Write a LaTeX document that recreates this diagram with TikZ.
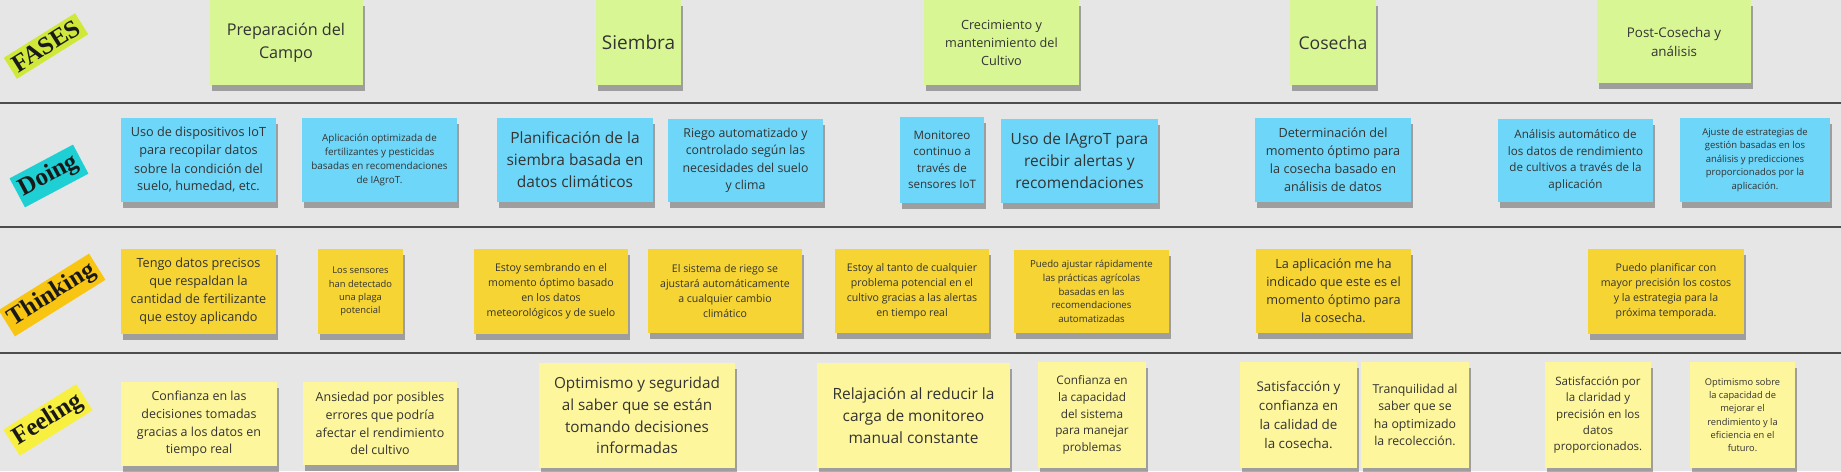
\documentclass[tikz,border=0pt]{standalone}
\usepackage{fontspec}
\setmainfont{Open Sans}
\newfontfamily\tagfont{Liberation Serif}
\usepackage{tikz}
\usetikzlibrary{
  shadows,
  positioning
}

\definecolor{boardgray}{HTML}{E6E6E6}
\definecolor{rulegray}{HTML}{4D4D4D}
\definecolor{phasegreen}{HTML}{D8F694}
\definecolor{doingblue}{HTML}{6ED6F8}
\definecolor{thinkgold}{HTML}{F5D433}
\definecolor{feelpale}{HTML}{FDF69C}
\definecolor{tagfases}{HTML}{CFE83A}
\definecolor{tagdoing}{HTML}{1ECFD3}
\definecolor{tagthink}{HTML}{F7C512}
\definecolor{tagfeel}{HTML}{F8F040}

% line spacing of a note, in board pixels
\newcommand\notesize[1]{\pgfmathsetmacro\nsA{#1*0.352}\pgfmathsetmacro\nsB{#1*0.5}\fontsize{\nsA}{\nsB}\selectfont}

\tikzset{
  note/.style={inner sep=0pt, align=center, text=black!80,
    drop shadow={shadow xshift=1pt, shadow yshift=-3pt, fill=black!80, opacity=.4}},
  wh/.style 2 args={minimum width=#1*0.5pt, minimum height=#2*0.5pt},
  sp/.style={font=\notesize{#1}},
  phase/.style={note, fill=phasegreen},
  doing/.style={note, fill=doingblue},
  think/.style={note, fill=thinkgold},
  feel/.style={note, fill=feelpale},
  rowtag/.style={inner sep=2pt, text=black!90,
    font=\tagfont\bfseries\fontsize{12.5}{12.5}\selectfont}
}

\begin{document}
\begin{tikzpicture}[x=0.5pt,y=-0.5pt]
  \useasboundingbox (0,0) rectangle (1841,471);
  \fill[boardgray] (0,0) rectangle (1841,471);
  % row rules
  \draw[rulegray,line width=1pt] (0,103) -- (1841,103);
  \draw[rulegray,line width=1pt] (0,227) -- (1841,227);
  \draw[rulegray,line width=1pt] (0,353) -- (1841,353);

  % row tags
  \node[rowtag,fill=tagfases,rotate=32] (lFases) at (46,46)  {FASES};
  \node[rowtag,fill=tagdoing,rotate=28,inner ysep=2.5pt] (lDoing) at (49,176) {Doing};
  \node[rowtag,fill=tagthink,rotate=32] (lThink) at (52,295) {Thinking};
  \node[rowtag,fill=tagfeel,rotate=32]  (lFeel)  at (48,420) {Feeling};

  % FASES
  \node[phase,wh={153}{85},sp=23] (pA) at (286,42.5)    {Preparación del\\Campo};
  \node[phase,wh={85}{85},sp=27]  (pB) at (638.5,42.5)  {Siembra};
  \node[phase,wh={155}{85},sp=18] (pC) at (1001.5,42.5) {Crecimiento y\\mantenimiento del\\Cultivo};
  \node[phase,wh={86}{85},sp=25]  (pD) at (1333,42.5)   {Cosecha};
  \node[phase,wh={154}{83},sp=19] (pE) at (1674,41.5)   {Post-Cosecha y\\análisis};

  % Doing
  \node[doing,wh={155}{84},sp=18]   (dA) at (198.5,160)  {Uso de dispositivos IoT\\para recopilar datos\\sobre la condición del\\suelo, humedad, etc.};
  \node[doing,wh={155}{84},sp=14]   (dB) at (379.5,160)  {Aplicación optimizada de\\fertilizantes y pesticidas\\basadas en recomendaciones\\de IAgroT.};
  \node[doing,wh={156}{84},sp=22]   (dC) at (575,160)    {Planificación de la\\siembra basada en\\datos climáticos};
  \node[doing,wh={155}{83},sp=17.5] (dD) at (745.5,160.5){Riego automatizado y\\controlado según las\\necesidades del suelo\\y clima};
  \node[doing,wh={84}{86},sp=16.5]  (dE) at (942,160)    {Monitoreo\\continuo a\\través de\\sensores IoT};
  \node[doing,wh={157}{84},sp=22]   (dF) at (1079.5,161) {Uso de IAgroT para\\recibir alertas y\\recomendaciones};
  \node[doing,wh={156}{84},sp=18]   (dG) at (1333,160)   {Determinación del\\momento óptimo para\\la cosecha basado en\\análisis de datos};
  \node[doing,wh={155}{83},sp=16.5] (dH) at (1575.5,160.5){Análisis automático de\\los datos de rendimiento\\de cultivos a través de la\\aplicación};
  \node[doing,wh={150}{84},sp=13.5] (dI) at (1755,160)   {Ajuste de estrategias de\\gestión basadas en los\\análisis y predicciones\\proporcionados por la\\aplicación.};

  % Thinking
  \node[think,wh={155}{85},sp=18]   (tA) at (198.5,291.5) {Tengo datos precisos\\que respaldan la\\cantidad de fertilizante\\que estoy aplicando};
  \node[think,wh={85}{85},sp=13.3]  (tB) at (360.5,291.5) {Los sensores\\han detectado\\una plaga\\potencial};
  \node[think,wh={154}{85},sp=15]   (tC) at (551,291.5)   {Estoy sembrando en el\\momento óptimo basado\\en los datos\\meteorológicos y de suelo};
  \node[think,wh={154}{84},sp=15]   (tD) at (725,291)     {El sistema de riego se\\ajustará automáticamente\\a cualquier cambio\\climático};
  \node[think,wh={154}{84},sp=15]   (tE) at (912,291)     {Estoy al tanto de cualquier\\problema potencial en el\\cultivo gracias a las alertas\\en tiempo real};
  \node[think,wh={155}{83},sp=13.7] (tF) at (1091.5,291.5){Puedo ajustar rápidamente\\las prácticas agrícolas\\basadas en las\\recomendaciones\\automatizadas};
  \node[think,wh={155}{84},sp=18]   (tG) at (1333.5,291)  {La aplicación me ha\\indicado que este es el\\momento óptimo para\\la cosecha.};
  \node[think,wh={156}{85},sp=15]   (tH) at (1666,291.5)  {Puedo planificar con\\mayor precisión los costos\\y la estrategia para la\\próxima temporada.};

  % Feeling
  \node[feel,wh={156}{84},sp=17.7]  (fA) at (199,424)     {Confianza en las\\decisiones tomadas\\gracias a los datos en\\tiempo real};
  \node[feel,wh={154}{83},sp=17.7]  (fB) at (380,423.5)   {Ansiedad por posibles\\errores que podría\\afectar el rendimiento\\del cultivo};
  \node[feel,wh={196}{105},sp=21.7] (fC) at (637,415.5)   {Optimismo y seguridad\\al saber que se están\\tomando decisiones\\informadas};
  \node[feel,wh={193}{105},sp=22]   (fD) at (913.5,415.5) {Relajación al reducir la\\carga de monitoreo\\manual constante};
  \node[feel,wh={108}{106},sp=16.7] (fE) at (1092,415)    {Confianza en\\la capacidad\\del sistema\\para manejar\\problemas};
  \node[feel,wh={117}{106},sp=19]   (fF) at (1298.5,415)  {Satisfacción y\\confianza en\\la calidad de\\la cosecha.};
  \node[feel,wh={108}{106},sp=17.5] (fG) at (1415,415)    {Tranquilidad al\\saber que se\\ha optimizado\\la recolección.};
  \node[feel,wh={106}{106},sp=16.4] (fH) at (1598,415)    {Satisfacción por\\la claridad y\\precisión en los\\datos\\proporcionados.};
  \node[feel,wh={105}{106},sp=13.2] (fI) at (1742.5,415)  {Optimismo sobre\\la capacidad de\\mejorar el\\rendimiento y la\\eficiencia en el\\futuro.};
\end{tikzpicture}
\end{document}
